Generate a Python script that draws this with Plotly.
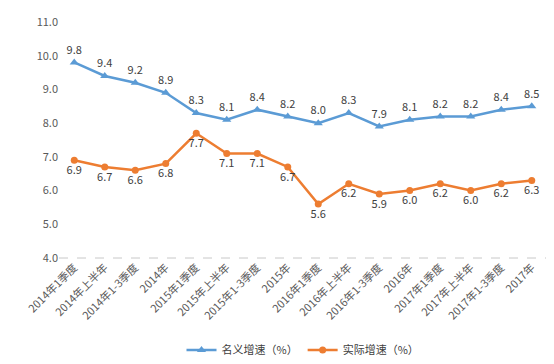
import plotly.graph_objects as go

categories = ["2014年1季度", "2014年上半年", "2014年1-3季度", "2014年",
              "2015年1季度", "2015年上半年", "2015年1-3季度", "2015年",
              "2016年1季度", "2016年上半年", "2016年1-3季度", "2016年",
              "2017年1季度", "2017年上半年", "2017年1-3季度", "2017年"]
nominal = [9.8, 9.4, 9.2, 8.9, 8.3, 8.1, 8.4, 8.2, 8.0, 8.3, 7.9, 8.1, 8.2, 8.2, 8.4, 8.5]
real = [6.9, 6.7, 6.6, 6.8, 7.7, 7.1, 7.1, 6.7, 5.6, 6.2, 5.9, 6.0, 6.2, 6.0, 6.2, 6.3]
series_names = ["名义增速（%）", "实际增速（%）"]

BLUE = "#5B9BD5"
ORANGE = "#ED7D31"
FONT = "Noto Sans CJK SC"

fig = go.Figure()
fig.add_trace(go.Scatter(
    x=categories, y=nominal, name=series_names[0],
    mode="lines+markers+text",
    line=dict(color=BLUE, width=2.5),
    marker=dict(symbol="triangle-up", size=8, color=BLUE),
    text=[f"{v:.1f}" for v in nominal], textposition="top center",
    textfont=dict(size=11, color="#404040", family=FONT),
    cliponaxis=False,
))
fig.add_trace(go.Scatter(
    x=categories, y=real, name=series_names[1],
    mode="lines+markers+text",
    line=dict(color=ORANGE, width=2.5),
    marker=dict(symbol="circle", size=7, color=ORANGE),
    text=[f"{v:.1f}" for v in real], textposition="bottom center",
    textfont=dict(size=11, color="#404040", family=FONT),
    cliponaxis=False,
))

fig.update_layout(
    width=554, height=364,
    margin=dict(l=51, r=15, t=14, b=114, autoexpand=False),
    paper_bgcolor="white", plot_bgcolor="white",
    font=dict(family=FONT, size=11, color="#595959"),
    showlegend=True,
    legend=dict(orientation="h", x=0.5, xanchor="center", y=-0.39, yanchor="middle",
                font=dict(size=11, color="#404040"), itemwidth=30,
                bgcolor="rgba(0,0,0,0)"),
    xaxis=dict(
        type="category", tickangle=-45, showgrid=False, showline=False,
        ticks="", tickfont=dict(size=11, color="#595959"), automargin=False,
        range=[-0.5, len(categories) - 0.5],
    ),
    yaxis=dict(
        range=[4, 11], dtick=1, tickformat=".1f", showgrid=False,
        zeroline=False, showline=False, ticks="", automargin=False,
        tickfont=dict(size=11, color="#595959"),
    ),
    shapes=[
        dict(type="line", xref="x domain", yref="y domain", x0=0, x1=1, y0=0, y1=0,
             line=dict(color="#C8C8C8", width=1, dash="dash"), layer="below"),
        dict(type="line", xref="paper", yref="paper", x0=-0.1045, x1=1.031,
             y0=-0.477, y1=-0.477, line=dict(color="#A0A0A0", width=1, dash="dot")),
    ],
)

fig.write_html("out.html")
